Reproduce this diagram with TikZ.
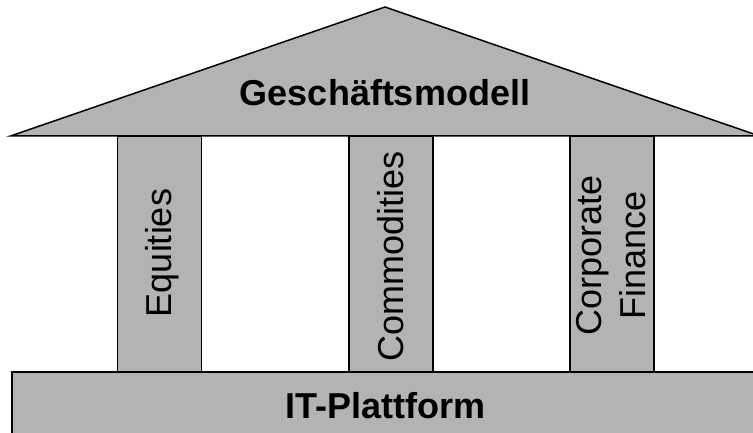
\documentclass[tikz,border=0pt]{standalone}
\usepackage{fontspec}
\setmainfont{Liberation Sans}
\definecolor{pillargray}{HTML}{B3B3B3}
\tikzset{
  part/.style={fill=pillargray, draw=black, line width=1.5pt},
  pillar/.style={part, rectangle, inner sep=0pt, minimum width=84pt, minimum height=236pt},
  ptext/.style={rotate=90, font=\fontsize{36}{44}\selectfont, align=center, inner sep=0pt},
  btext/.style={font=\bfseries\fontsize{36}{44}\selectfont, inner sep=0pt, anchor=base}
}
\begin{document}
\begin{tikzpicture}[x=1pt,y=-1pt]
\useasboundingbox (0,0) rectangle (753,433);
\clip (0,0) rectangle (753,433);
% pillars
\node[pillar] (p1) at (159.5,254.5) {};
\node[pillar] (p2) at (391,254.5) {};
\node[pillar] (p3) at (612,254.5) {};
% roof
\draw[part, line join=miter] (10.5,136) -- (385,7) -- (759.5,136) -- cycle;
% base
\draw[part] (12,443) -- (12,372) -- (765,372) -- (765,443);
% texts
\node[btext] (roof) at (385,106) {Geschäftsmodell};
\node[btext] (base) at (385,418) {IT-Plattform};
\node[ptext, anchor=base] (t1) at (171.5,253) {Equities};
\node[ptext, anchor=base] (t2) at (403,256.5) {Commodities};
\node[ptext] (t3) at (611,255) {Corporate\\Finance};
\end{tikzpicture}
\end{document}
